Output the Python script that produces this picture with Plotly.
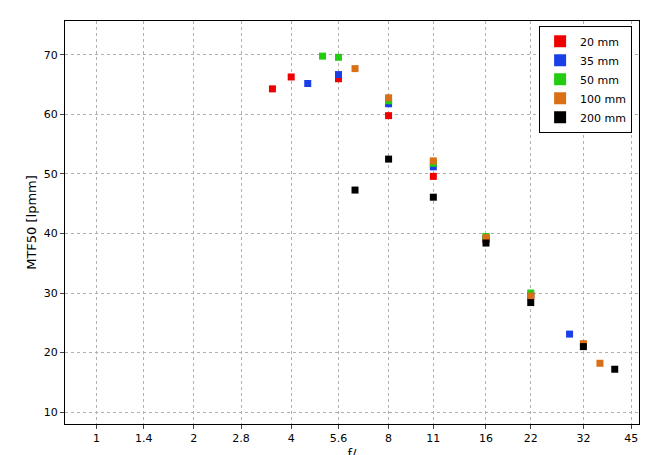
import plotly.graph_objects as go

names = ["20 mm", "35 mm", "50 mm", "100 mm", "200 mm"]
colors = ["#ee0000", "#1a3fe6", "#22cc11", "#d97016", "#000000"]
xs = [
    [3.5, 4.0, 5.6, 8, 11, 16, 22],
    [4.5, 5.6, 8, 11, 16, 22, 29],
    [5.0, 5.6, 8, 11, 16, 22],
    [6.3, 8, 11, 16, 22, 32, 36],
    [6.3, 8, 11, 16, 22, 32, 40],
]
ys = [
    [64.3, 66.3, 66.0, 59.8, 49.6, 39.0, 29.5],
    [65.2, 66.7, 61.8, 51.2, 39.2, 29.6, 23.1],
    [69.8, 69.6, 62.3, 51.8, 39.5, 30.0],
    [67.7, 62.8, 52.2, 39.3, 29.5, 21.5, 18.2],
    [47.3, 52.5, 46.1, 38.4, 28.4, 21.0, 17.2],
]
xticks = [1, 1.4, 2, 2.8, 4, 5.6, 8, 11, 16, 22, 32, 45]
xticklabels = ["1", "1.4", "2", "2.8", "4", "5.6", "8", "11", "16", "22", "32", "45"]
yticks = [10, 20, 30, 40, 50, 60, 70]

fig = go.Figure()
for n, c, x, y in zip(names, colors, xs, ys):
    fig.add_trace(go.Scatter(x=x, y=y, mode="markers", name=n,
                             marker=dict(symbol="square", size=7, color=c)))

ax = dict(showline=True, linecolor="black", mirror=True, ticks="outside",
          ticklen=4, gridcolor="#b0b0b0", griddash="dot", zeroline=False,
          automargin=False)
fig.update_xaxes(type="log", range=[-0.097, 1.677], tickvals=xticks,
                 ticktext=xticklabels, title=dict(text="f/", standoff=4), **ax)
fig.update_yaxes(range=[8, 75.7], tickvals=yticks,
                 title=dict(text="MTF50 [lpmm]", standoff=4), **ax)
fig.update_layout(
    width=655, height=455, plot_bgcolor="white", paper_bgcolor="white",
    margin=dict(l=57, r=24, t=13, b=39),
    font=dict(family="DejaVu Sans", size=11, color="black"),
    legend=dict(x=0.988, y=0.988, xanchor="right", yanchor="top",
                bordercolor="black", borderwidth=1, bgcolor="white",
                font=dict(size=11), tracegroupgap=0, itemwidth=30,
                itemsizing="constant"),
)
fig.write_html("out.html")
